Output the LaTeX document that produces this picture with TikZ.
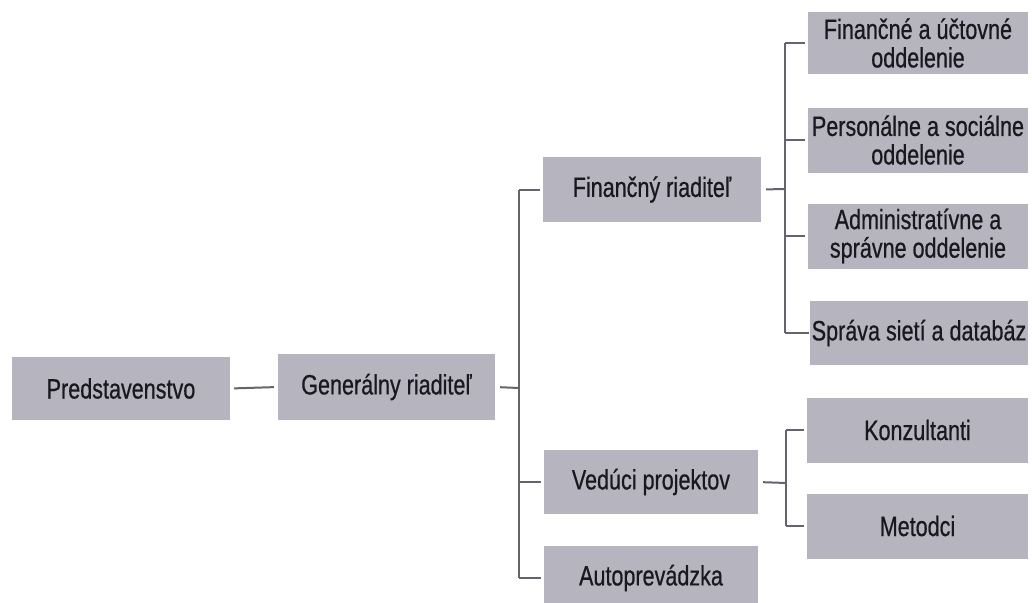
\documentclass[tikz,border=0pt]{standalone}
\usepackage{fontspec}
\setmainfont{Liberation Sans}[FakeStretch=0.77,FakeBold=0.6]
\definecolor{boxfill}{RGB}{182,180,190}
\definecolor{linegray}{RGB}{100,100,108}
\definecolor{txt}{RGB}{24,24,30}
\begin{document}
\begin{tikzpicture}[x=1pt,y=-1pt,
  box/.style={draw=none, fill=boxfill, inner sep=0pt, align=center, text=txt,
    font=\fontsize{28}{28.5}\selectfont},
  conn/.style={draw=linegray, line width=2pt}]
\useasboundingbox[fill=white] (0,0) rectangle (1032,602);
% boxes
\node[box, minimum width=218pt, minimum height=63pt] (P) at (121,388.5) {Predstavenstvo};
\node[box, minimum width=217pt, minimum height=66pt] (G) at (386.5,387) {Generálny riaditeľ};
\node[box, minimum width=218pt, minimum height=65pt] (F) at (652,189.5) {Finančný riaditeľ};
\node[box, minimum width=214pt, minimum height=64pt] (V) at (651,482) {Vedúci projektov};
\node[box, minimum width=214pt, minimum height=64pt] (A) at (651,578) {Autoprevádzka};
\node[box, minimum width=220pt, minimum height=62pt] (R1) at (918,43) {Finančné a účtovné\\oddelenie};
\node[box, minimum width=220pt, minimum height=65pt] (R2) at (918,140) {Personálne a sociálne\\oddelenie};
\node[box, minimum width=220pt, minimum height=65pt] (R3) at (918,236) {Administratívne a\\správne oddelenie};
\node[box, minimum width=218pt, minimum height=64pt] (R4) at (919,333) {Správa sietí a databáz};
\node[box, minimum width=221pt, minimum height=65pt] (K) at (917.5,430) {Konzultanti};
\node[box, minimum width=221pt, minimum height=65pt] (M) at (917.5,526) {Metodci};
% junction coordinates
\coordinate (t1) at (519,388);
\coordinate (t2) at (785,189);
\coordinate (t3) at (786,483);
% connectors
\draw[conn, shorten <=4pt, shorten >=4pt] (P.east) -- (G.west);
\draw[conn, shorten <=5pt] (G.east) -- (t1);
\draw[conn] (t1 |- F.west) -- (t1 |- A.west);
\draw[conn, shorten >=3pt] (t1 |- F.west) -- (F.west);
\draw[conn, shorten >=3pt] (t1 |- V.west) -- (V.west);
\draw[conn, shorten >=3pt] (t1 |- A.west) -- (A.west);
\draw[conn, shorten <=5pt] (F.east) -- (t2);
\draw[conn] (t2 |- R1.west) -- (t2 |- R4.west);
\draw[conn, shorten >=3pt] (t2 |- R1.west) -- (R1.west);
\draw[conn, shorten >=3pt] (t2 |- R2.west) -- (R2.west);
\draw[conn, shorten >=3pt] (t2 |- R3.west) -- (R3.west);
\draw[conn, shorten >=1pt] (t2 |- R4.west) -- (R4.west);
\draw[conn, shorten <=5pt] (V.east) -- (t3);
\draw[conn] (t3 |- K.west) -- (t3 |- M.west);
\draw[conn, shorten >=3pt] (t3 |- K.west) -- (K.west);
\draw[conn, shorten >=3pt] (t3 |- M.west) -- (M.west);
\end{tikzpicture}
\end{document}
